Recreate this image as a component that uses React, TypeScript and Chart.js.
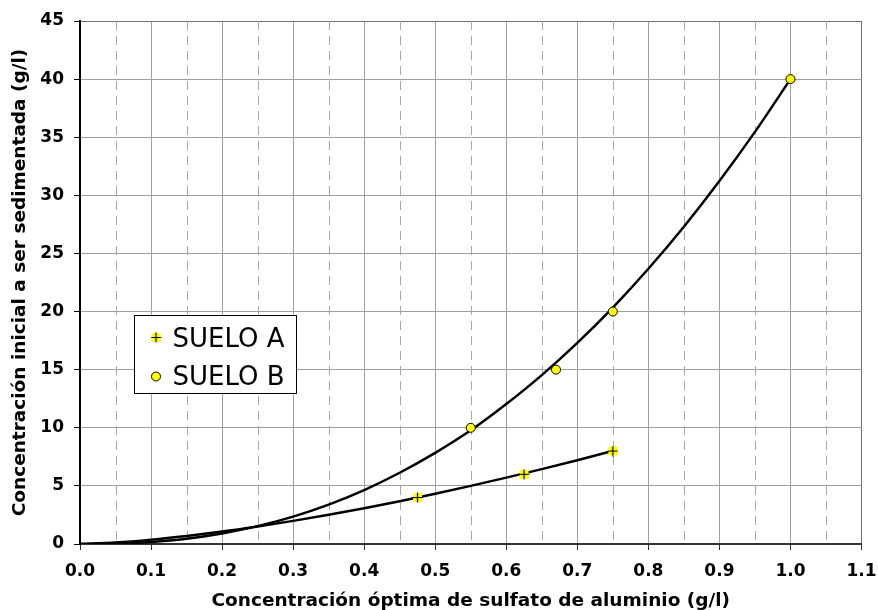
import React, { useEffect, useRef } from 'react';
import { Chart, registerables } from 'chart.js';

Chart.register(...registerables);

const SUELO_A_X = [0.475, 0.625, 0.75];
const SUELO_A_Y = [4, 6, 8];
const SUELO_B_X = [0.55, 0.67, 0.75, 1.0];
const SUELO_B_Y = [10, 15, 20, 40];

const TREND_A_X = [0, 0.05, 0.1, 0.15, 0.2, 0.25, 0.3, 0.35, 0.4, 0.45, 0.5, 0.55, 0.6, 0.65, 0.7, 0.75];
const TREND_A_Y = [0, 0.13, 0.37, 0.69, 1.07, 1.51, 1.99, 2.51, 3.08, 3.68, 4.32, 5.0, 5.71, 6.44, 7.21, 8.01];

const TREND_B_X = [0, 0.05, 0.1, 0.15, 0.2, 0.25, 0.3, 0.35, 0.4, 0.45, 0.5, 0.55, 0.6, 0.65, 0.7, 0.75, 0.8, 0.85, 0.9, 0.95, 1.0];
const TREND_B_Y = [0, 0.035, 0.18, 0.46, 0.91, 1.54, 2.36, 3.39, 4.64, 6.13, 7.84, 9.78, 12.04, 14.53, 17.3, 20.34, 23.68, 27.3, 31.23, 35.46, 40];

const LEGEND_LABELS = ['SUELO A', 'SUELO B'];
const X_TITLE = 'Concentración óptima de sulfato de aluminio (g/l)';
const Y_TITLE = 'Concentración inicial a ser sedimentada (g/l)';

const X_MIN = 0;
const X_MAX = 1.1;
const X_STEP = 0.1;
const Y_MIN = 0;
const Y_MAX = 45;
const Y_STEP = 5;

const FONT = "'DejaVu Sans', Verdana, sans-serif";

function zip(xs: number[], ys: number[]) {
  return xs.map((x, i) => ({ x, y: ys[i] }));
}

function makePlus(): HTMLCanvasElement {
  const c = document.createElement('canvas');
  c.width = 11;
  c.height = 11;
  const g = c.getContext('2d')!;
  g.fillStyle = '#ffff00';
  g.fillRect(1, 1, 9, 9);
  g.strokeStyle = '#000000';
  g.lineWidth = 1.2;
  g.beginPath();
  g.moveTo(5.5, 0.5);
  g.lineTo(5.5, 10.5);
  g.moveTo(0.5, 5.5);
  g.lineTo(10.5, 5.5);
  g.stroke();
  return c;
}

export default function App() {
  const ref = useRef<HTMLCanvasElement | null>(null);

  useEffect(() => {
    if (!ref.current) return;
    const plus = makePlus();

    const extraGrid = {
      id: 'extraGrid',
      beforeDatasetsDraw(chart: any) {
        const { ctx, chartArea, scales } = chart;
        const { top, bottom } = chartArea;
        const x = scales.x;
        ctx.save();
        ctx.strokeStyle = '#a8a8a8';
        ctx.lineWidth = 1;
        ctx.setLineDash([9, 6]);
        const ticks = x.ticks;
        for (let i = 0; i < ticks.length - 1; i++) {
          const v = (ticks[i].value + ticks[i + 1].value) / 2;
          const px = Math.round(x.getPixelForValue(v)) + 0.5;
          ctx.beginPath();
          ctx.moveTo(px, top);
          ctx.lineTo(px, bottom);
          ctx.stroke();
        }
        ctx.restore();
      },
    };

    const legendBox = {
      id: 'legendBox',
      afterDraw(chart: any) {
        const { ctx, chartArea } = chart;
        const bx = chartArea.left + 54.5;
        const by = chartArea.top + 294.5;
        const bw = 162;
        const bh = 78;
        ctx.save();
        ctx.fillStyle = '#ffffff';
        ctx.fillRect(bx, by, bw, bh);
        ctx.strokeStyle = '#000000';
        ctx.lineWidth = 1;
        ctx.strokeRect(bx, by, bw, bh);
        ctx.drawImage(plus, bx + 21.5 - plus.width / 2, by + 22 - plus.height / 2);
        ctx.beginPath();
        ctx.arc(bx + 21.5, by + 61, 4.5, 0, Math.PI * 2);
        ctx.fillStyle = '#ffff00';
        ctx.fill();
        ctx.strokeStyle = '#000000';
        ctx.lineWidth = 1;
        ctx.stroke();
        ctx.fillStyle = '#000000';
        ctx.font = `26px ${FONT}`;
        ctx.textBaseline = 'alphabetic';
        ctx.textAlign = 'left';
        ctx.fillText(LEGEND_LABELS[0], bx + 38, by + 31.5);
        ctx.fillText(LEGEND_LABELS[1], bx + 38, by + 69.5);
        ctx.restore();
      },
    };

    const chart = new Chart(ref.current, {
      type: 'scatter',
      data: {
        datasets: [
          {
            label: LEGEND_LABELS[0],
            data: zip(SUELO_A_X, SUELO_A_Y),
            pointStyle: plus as any,
            pointRadius: 5,
            showLine: false,
          },
          {
            label: LEGEND_LABELS[1],
            data: zip(SUELO_B_X, SUELO_B_Y),
            pointStyle: 'circle',
            pointRadius: 4.5,
            backgroundColor: '#ffff00',
            borderColor: '#000000',
            borderWidth: 1,
            showLine: false,
          },
          {
            type: 'line',
            label: 'trendA',
            data: zip(TREND_A_X, TREND_A_Y),
            borderColor: '#000000',
            borderWidth: 2.5,
            pointRadius: 0,
            cubicInterpolationMode: 'monotone',
            fill: false,
          } as any,
          {
            type: 'line',
            label: 'trendB',
            data: zip(TREND_B_X, TREND_B_Y),
            borderColor: '#000000',
            borderWidth: 2.5,
            pointRadius: 0,
            cubicInterpolationMode: 'monotone',
            fill: false,
          } as any,
        ],
      },
      options: {
        responsive: false,
        animation: false,
        events: [],
        layout: { padding: { top: 21, right: 0, left: 0, bottom: 0 } },
        plugins: {
          legend: { display: false },
          tooltip: { enabled: false },
        },
        scales: {
          x: {
            type: 'linear',
            min: X_MIN,
            max: X_MAX,
            afterFit: (s: any) => {
              s.height = 66;
              s.paddingRight = 16.5;
              s.paddingLeft = 0;
            },
            ticks: {
              stepSize: X_STEP,
              autoSkip: false,
              maxRotation: 0,
              padding: 11,
              color: '#000000',
              font: { family: FONT, size: 17, weight: 'bold' },
              callback: (v: any) => Number(v).toFixed(1),
            },
            grid: {
              color: (c: any) => (c.tick && Math.abs(c.tick.value - X_MAX) < 1e-6 ? '#707070' : '#a0a0a0'),
              lineWidth: 1,
              drawTicks: true,
              tickLength: 6,
              tickColor: '#333333',
            },
            border: { color: '#333333', width: 2 },
            title: {
              display: true,
              text: X_TITLE,
              color: '#000000',
              font: { family: FONT, size: 18.5, weight: 'bold', lineHeight: 1 },
              padding: 0,
            },
          },
          y: {
            type: 'linear',
            min: Y_MIN,
            max: Y_MAX,
            afterFit: (s: any) => {
              s.width = 80;
              s.paddingTop = 0;
              s.paddingBottom = 0;
            },
            ticks: {
              stepSize: Y_STEP,
              padding: 10,
              color: '#000000',
              font: { family: FONT, size: 17, weight: 'bold' },
            },
            grid: {
              color: (c: any) => (c.tick && c.tick.value === Y_MAX ? '#707070' : '#a0a0a0'),
              lineWidth: 1,
              drawTicks: true,
              tickLength: 6,
              tickColor: '#000000',
            },
            border: { color: '#000000', width: 2 },
            title: {
              display: true,
              text: Y_TITLE,
              color: '#000000',
              font: { family: FONT, size: 18.5, weight: 'bold', lineHeight: 1 },
              padding: { top: 11, bottom: 0 },
            },
          },
        },
      } as any,
      plugins: [extraGrid, legendBox],
    });

    return () => chart.destroy();
  }, []);

  return (
    <div style={{ position: 'absolute', left: 0, top: 0, width: 878, height: 610, background: '#ffffff' }}>
      <canvas ref={ref} width={878} height={610} style={{ display: 'block' }} />
    </div>
  );
}
